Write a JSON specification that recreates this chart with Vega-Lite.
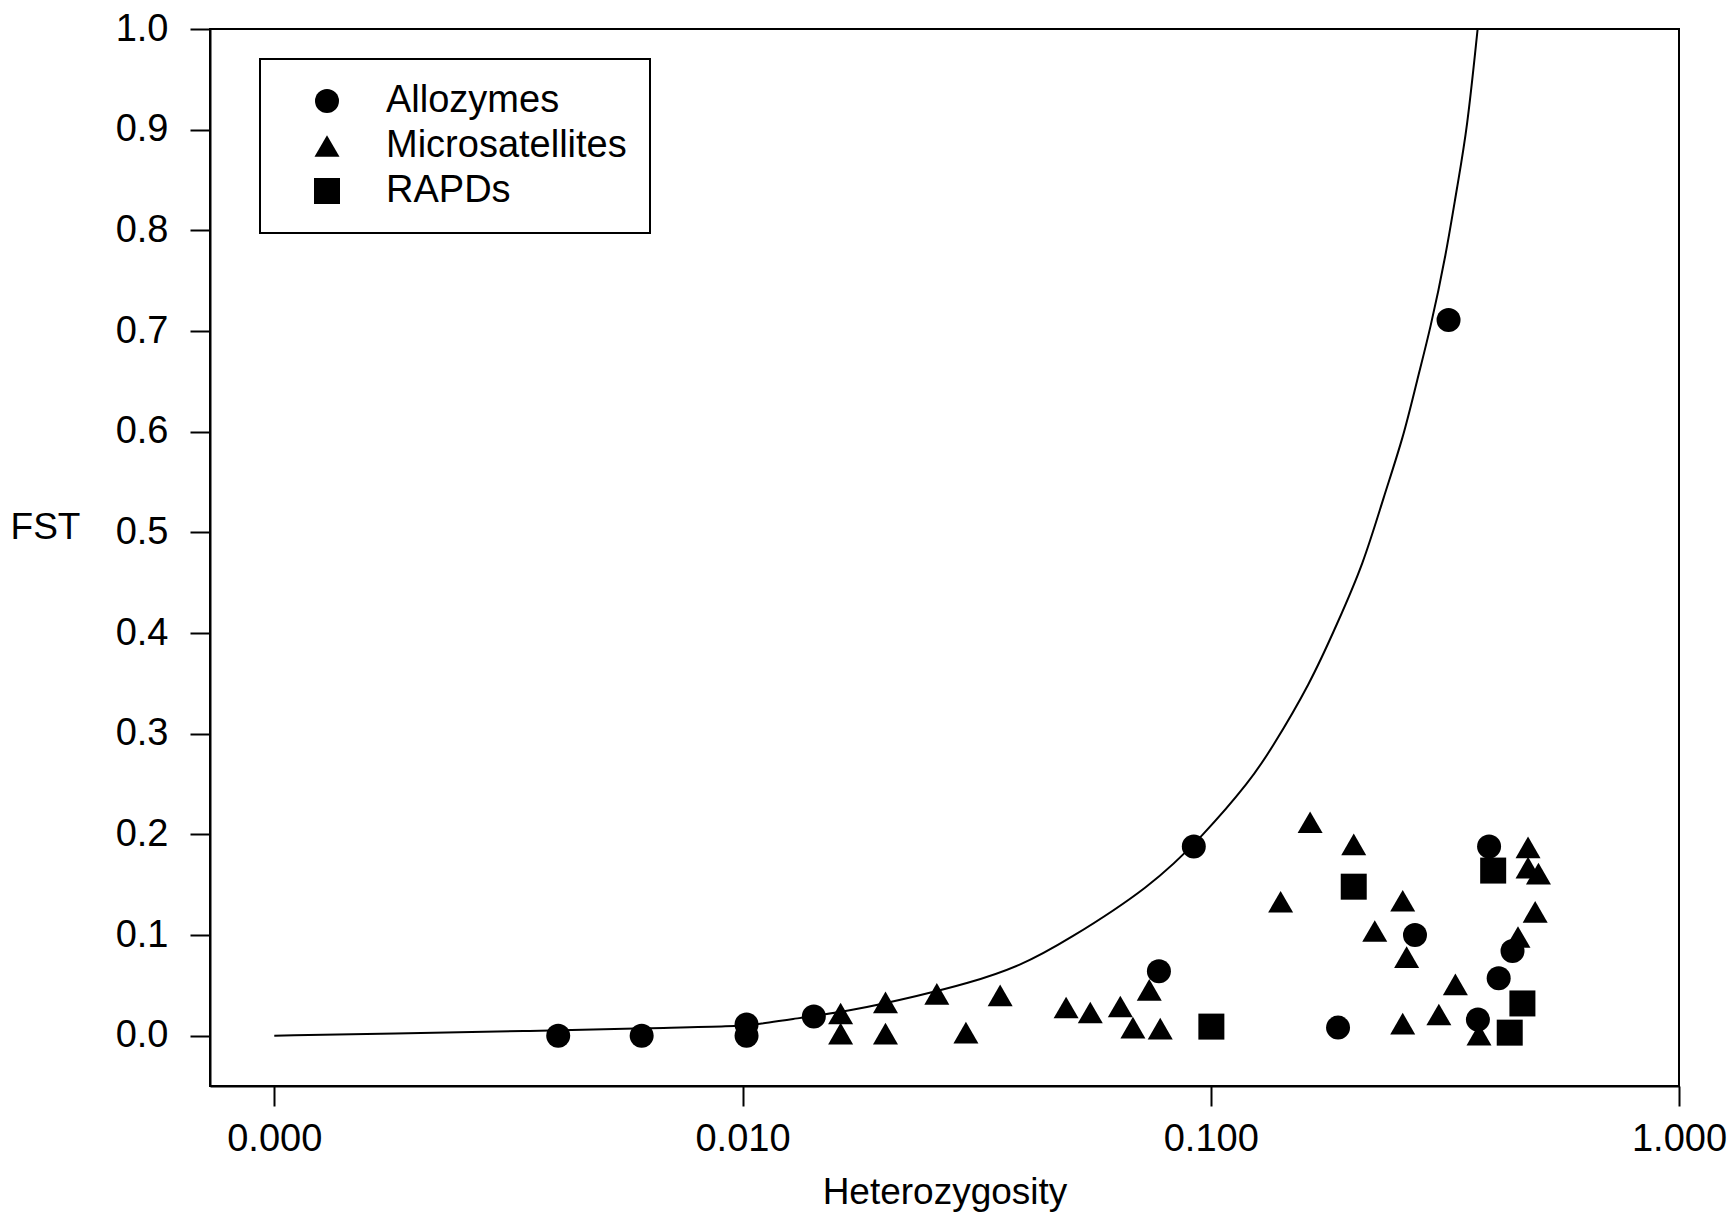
{
  "$schema": "https://vega.github.io/schema/vega-lite/v6.json",
  "width": 1469,
  "height": 1057,
  "autosize": {"type": "none"},
  "padding": {"left": 210, "top": 29, "right": 55, "bottom": 146},
  "background": "white",
  "config": {
    "font": "Liberation Sans",
    "view": {"stroke": "black", "strokeWidth": 2},
    "axis": {
      "domainColor": "black", "domainWidth": 2,
      "tickColor": "black", "tickWidth": 2, "tickSize": 20,
      "labelColor": "black", "titleColor": "black",
      "labelFont": "Liberation Sans", "titleFont": "Liberation Sans",
      "labelFontSize": 38, "titleFontSize": 37, "titleFontWeight": "normal",
      "grid": false, "labelFlush": false, "labelOverlap": false
    },
    "legend": {
      "strokeColor": "black", "strokeWidth": 2, "fillColor": "white",
      "padding": 23, "labelFont": "Liberation Sans", "labelFontSize": 38, "labelColor": "black",
      "labelLimit": 0,
      "symbolOffset": 25, "labelOffset": 40, "rowPadding": 7,
      "symbolStrokeWidth": 0, "symbolFillColor": "black"
    }
  },
  "datasets": {
    "curve": [
      {"h": 0.001, "fst": 0.0},
      {"h": 0.0018, "fst": 0.002},
      {"h": 0.0034, "fst": 0.0045},
      {"h": 0.0065, "fst": 0.0077},
      {"h": 0.0096, "fst": 0.009},
      {"h": 0.0109, "fst": 0.0117},
      {"h": 0.0124, "fst": 0.0157},
      {"h": 0.0173, "fst": 0.025},
      {"h": 0.0239, "fst": 0.040},
      {"h": 0.0301, "fst": 0.0515},
      {"h": 0.0392, "fst": 0.069},
      {"h": 0.0493, "fst": 0.0945},
      {"h": 0.0743, "fst": 0.1475},
      {"h": 0.0965, "fst": 0.199},
      {"h": 0.1215, "fst": 0.2535},
      {"h": 0.134, "fst": 0.283},
      {"h": 0.1632, "fst": 0.350},
      {"h": 0.1861, "fst": 0.409},
      {"h": 0.212, "fst": 0.469},
      {"h": 0.2339, "fst": 0.535},
      {"h": 0.2581, "fst": 0.595},
      {"h": 0.2757, "fst": 0.651},
      {"h": 0.294, "fst": 0.7006},
      {"h": 0.3184, "fst": 0.777},
      {"h": 0.3357, "fst": 0.843},
      {"h": 0.3526, "fst": 0.899},
      {"h": 0.3715, "fst": 1.0}
    ],
    "points": [
      {"type": "Allozymes", "h": 0.00404, "fst": 0.0},
      {"type": "Allozymes", "h": 0.00609, "fst": 0.0},
      {"type": "Allozymes", "h": 0.0102, "fst": 0.011},
      {"type": "Allozymes", "h": 0.0102, "fst": 0.0},
      {"type": "Allozymes", "h": 0.0142, "fst": 0.019},
      {"type": "Allozymes", "h": 0.0775, "fst": 0.064},
      {"type": "Allozymes", "h": 0.092, "fst": 0.188},
      {"type": "Allozymes", "h": 0.187, "fst": 0.008},
      {"type": "Allozymes", "h": 0.273, "fst": 0.100},
      {"type": "Allozymes", "h": 0.322, "fst": 0.711},
      {"type": "Allozymes", "h": 0.372, "fst": 0.016},
      {"type": "Allozymes", "h": 0.393, "fst": 0.188},
      {"type": "Allozymes", "h": 0.412, "fst": 0.057},
      {"type": "Allozymes", "h": 0.441, "fst": 0.084},
      {"type": "Microsatellites", "h": 0.0162, "fst": 0.022},
      {"type": "Microsatellites", "h": 0.0162, "fst": 0.002},
      {"type": "Microsatellites", "h": 0.0202, "fst": 0.033},
      {"type": "Microsatellites", "h": 0.0202, "fst": 0.002},
      {"type": "Microsatellites", "h": 0.026, "fst": 0.0415},
      {"type": "Microsatellites", "h": 0.030, "fst": 0.003},
      {"type": "Microsatellites", "h": 0.0355, "fst": 0.040},
      {"type": "Microsatellites", "h": 0.0491, "fst": 0.028},
      {"type": "Microsatellites", "h": 0.0553, "fst": 0.023},
      {"type": "Microsatellites", "h": 0.0641, "fst": 0.029},
      {"type": "Microsatellites", "h": 0.0682, "fst": 0.008},
      {"type": "Microsatellites", "h": 0.0739, "fst": 0.0455},
      {"type": "Microsatellites", "h": 0.078, "fst": 0.007},
      {"type": "Microsatellites", "h": 0.141, "fst": 0.133},
      {"type": "Microsatellites", "h": 0.163, "fst": 0.212},
      {"type": "Microsatellites", "h": 0.202, "fst": 0.190},
      {"type": "Microsatellites", "h": 0.224, "fst": 0.104},
      {"type": "Microsatellites", "h": 0.257, "fst": 0.134},
      {"type": "Microsatellites", "h": 0.262, "fst": 0.078},
      {"type": "Microsatellites", "h": 0.257, "fst": 0.012},
      {"type": "Microsatellites", "h": 0.307, "fst": 0.021},
      {"type": "Microsatellites", "h": 0.333, "fst": 0.051},
      {"type": "Microsatellites", "h": 0.374, "fst": 0.001},
      {"type": "Microsatellites", "h": 0.453, "fst": 0.098},
      {"type": "Microsatellites", "h": 0.476, "fst": 0.187},
      {"type": "Microsatellites", "h": 0.476, "fst": 0.167},
      {"type": "Microsatellites", "h": 0.501, "fst": 0.161},
      {"type": "Microsatellites", "h": 0.493, "fst": 0.123},
      {"type": "RAPDs", "h": 0.1003, "fst": 0.009},
      {"type": "RAPDs", "h": 0.202, "fst": 0.148},
      {"type": "RAPDs", "h": 0.401, "fst": 0.164},
      {"type": "RAPDs", "h": 0.463, "fst": 0.032},
      {"type": "RAPDs", "h": 0.435, "fst": 0.003}
    ]
  },
  "encoding": {
    "x": {
      "field": "h", "type": "quantitative",
      "scale": {"type": "log", "domain": [0.000729, 1], "nice": false},
      "axis": {
        "title": "Heterozygosity",
        "values": [0.001, 0.01, 0.1, 1],
        "labelExpr": "datum.value < 0.005 ? '0.000' : format(datum.value, '.3f')",
        "labelBaseline": "alphabetic", "labelPadding": 44,
        "titleY": 117, "titleBaseline": "alphabetic"
      }
    },
    "y": {
      "field": "fst", "type": "quantitative",
      "scale": {"domain": [-0.05, 1.0], "nice": false, "zero": false},
      "axis": {
        "title": "FST",
        "values": [0, 0.1, 0.2, 0.3, 0.4, 0.5, 0.6, 0.7, 0.8, 0.9, 1.0],
        "format": ".1f",
        "labelPadding": 22,
        "titleAngle": 0, "titleX": -165, "titleY": 498,
        "titleAlign": "center", "titleBaseline": "middle"
      }
    }
  },
  "layer": [
    {
      "data": {"name": "curve"},
      "mark": {"type": "line", "color": "black", "strokeWidth": 2, "interpolate": "basis", "clip": true},
      "encoding": {}
    },
    {
      "data": {"name": "points"},
      "mark": {"type": "point", "filled": true, "color": "black", "opacity": 1, "strokeWidth": 0},
      "encoding": {
        "shape": {
          "field": "type", "type": "nominal",
          "scale": {"domain": ["Allozymes", "Microsatellites", "RAPDs"], "range": ["circle", "triangle-up", "square"]},
          "legend": {"title": null, "orient": "none", "legendX": 50, "legendY": 30}
        },
        "size": {
          "field": "type", "type": "nominal",
          "scale": {"domain": ["Allozymes", "Microsatellites", "RAPDs"], "range": [576, 676, 484]},
          "legend": {"title": null, "orient": "none", "legendX": 50, "legendY": 30}
        }
      }
    }
  ]
}
